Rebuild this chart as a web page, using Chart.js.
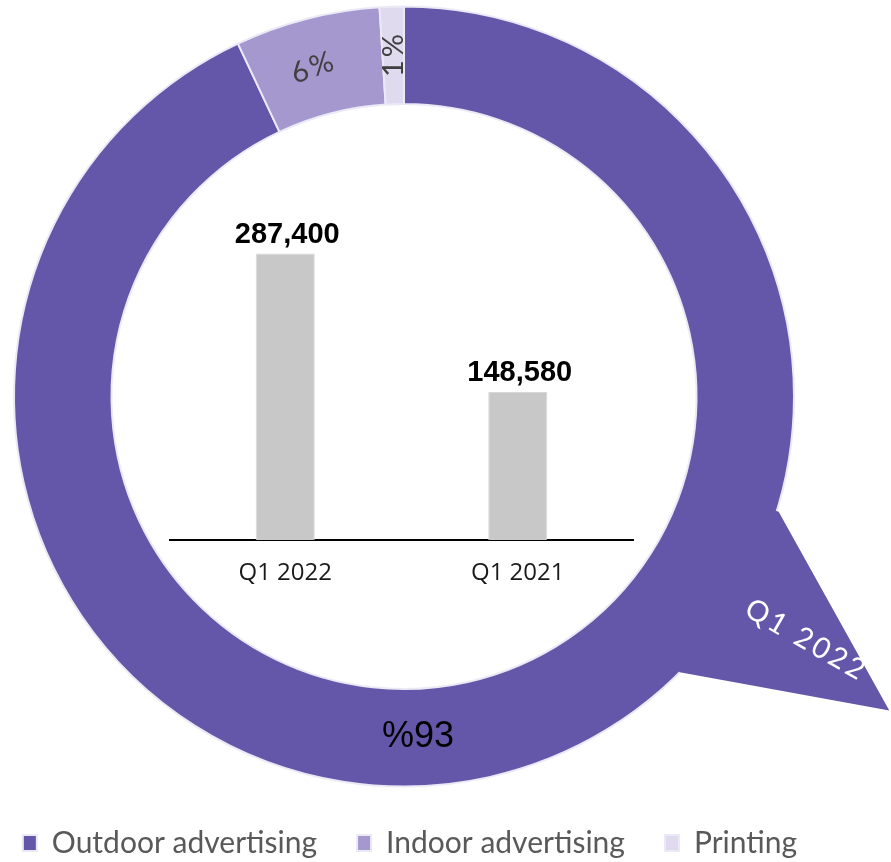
<!DOCTYPE html>
<html>
<head>
<meta charset="utf-8">
<script src="https://cdn.jsdelivr.net/npm/chart.js@4.4.0/dist/chart.umd.min.js"></script>
<style>
  html, body { margin: 0; padding: 0; background: #fff; }
  #wrap { position: relative; width: 891px; height: 862px; overflow: hidden; }
  #ring { position: absolute; left: 0; top: 0; }
  #bars { position: absolute; left: 169px; top: 201px; }
</style>
</head>
<body>
<div id="wrap">
  <canvas id="ring" width="891" height="862"></canvas>
  <canvas id="bars" width="465" height="384"></canvas>
</div>
<script>
// revenue share by segment (Q1 2022)
const shareLabels = ['Outdoor advertising', 'Indoor advertising', 'Printing'];
const shareValues = [93, 6, 1];
const shareText = ['%93', '6%', '1%'];
const shareColors = ['#6457A9', '#A498CF', '#E0DAEF'];

// revenue, this quarter vs same quarter last year
const periods = ['Q1 2022', 'Q1 2021'];
const revenue = [287400, 148580];
const revenueMax = 300000;

const deg = Math.PI / 180;

// speech-bubble tail + labels on the ring
const ringExtras = {
  id: 'ringExtras',
  afterInit(chart) {
    // legend: one row across the whole page, fixed strip height
    const lg = chart.legend;
    const fit = lg.fit.bind(lg);
    lg.fit = function () { this.maxWidth = 891; fit(); this.height = 74; };
  },
  afterLayout(chart) {
    // let the single legend row run wider than the ring's box
    chart.legend.left = -20;
    chart.legend.right = 840;
  },
  afterDatasetsDraw(chart) {
    const ctx = chart.ctx;
    const arcs = chart.getDatasetMeta(0).data;
    const cx = arcs[0].x, cy = arcs[0].y, R = arcs[0].outerRadius;
    const pt = (a, r) => [cx + r * Math.cos(a * deg), cy + r * Math.sin(a * deg)];

    ctx.save();
    ctx.fillStyle = shareColors[0];
    ctx.beginPath();
    ctx.moveTo(...pt(17.1, R + 2));
    ctx.lineTo(...pt(32.9, R * 1.482));
    ctx.lineTo(...pt(45, R));
    ctx.arc(cx, cy, R - 4, 45 * deg, 17.1 * deg, true);
    ctx.closePath();
    ctx.fill();

    // tail caption
    const [tx, ty] = pt(31.2, R * 1.206);
    ctx.translate(tx, ty);
    ctx.rotate(30 * deg);
    ctx.fillStyle = '#fff';
    ctx.font = '29px Lato, sans-serif';
    ctx.letterSpacing = '3px';
    ctx.textAlign = 'center';
    ctx.textBaseline = 'middle';
    ctx.fillText(periods[0], 0, 0);
    ctx.restore();

    // percentage labels
    const spots = [{ ang: 87.9, dr: 0, rot: 0 }, { ang: -105.6, dr: 0, rot: -20 }, { ang: null, dr: 0, rot: -90 }];
    arcs.forEach((arc, i) => {
      const s = spots[i];
      const a = s.ang !== null ? s.ang * deg : (arc.startAngle + arc.endAngle) / 2;
      const r = (arc.innerRadius + arc.outerRadius) / 2 + s.dr;
      ctx.save();
      ctx.translate(cx + r * Math.cos(a), cy + r * Math.sin(a));
      ctx.rotate(s.rot * deg);
      ctx.textAlign = 'center';
      ctx.textBaseline = 'middle';
      if (i === 0) {
        ctx.font = '36px "Liberation Sans", Arial, sans-serif';
        ctx.fillStyle = '#000';
      } else {
        ctx.font = '29px Lato, sans-serif';
        ctx.letterSpacing = '3px';
        ctx.fillStyle = '#404040';
      }
      ctx.fillText(shareText[i], 1.5, 0);
      ctx.restore();
    });
  }
};

new Chart(document.getElementById('ring'), {
  type: 'doughnut',
  data: {
    labels: shareLabels,
    datasets: [{
      data: shareValues,
      backgroundColor: shareColors,
      borderColor: '#ECE9F7',
      borderWidth: 2,
      hoverOffset: 0
    }]
  },
  options: {
    responsive: false,
    animation: false,
    devicePixelRatio: 1,
    cutout: '75%',
    layout: { padding: { left: 13, right: 96, top: 5, bottom: 0 } },
    plugins: {
      tooltip: { enabled: false },
      legend: {
        position: 'bottom',
        labels: {
          boxWidth: 14,
          boxHeight: 16,
          padding: 40,
          color: '#595959',
          font: { family: 'Lato', size: 30 }
        }
      }
    }
  },
  plugins: [ringExtras]
});

// values above the bars
const barValues = {
  id: 'barValues',
  afterDatasetsDraw(chart) {
    const ctx = chart.ctx;
    ctx.save();
    ctx.font = 'bold 29px "Liberation Sans", Arial, sans-serif';
    ctx.fillStyle = '#000';
    ctx.textAlign = 'center';
    ctx.textBaseline = 'alphabetic';
    chart.getDatasetMeta(0).data.forEach((bar, i) => {
      ctx.fillText(revenue[i].toLocaleString('en-US'), bar.x + 2, bar.y - 11);
    });
    ctx.restore();
  }
};

new Chart(document.getElementById('bars'), {
  type: 'bar',
  data: {
    labels: periods,
    datasets: [{
      data: revenue,
      backgroundColor: '#C8C8C8',
      borderColor: '#D8D8D8',
      borderWidth: 1,
      barPercentage: 0.254,
      categoryPercentage: 1
    }]
  },
  options: {
    responsive: false,
    animation: false,
    devicePixelRatio: 1,
    layout: { padding: { top: 40, left: 0, right: 0, bottom: 0 } },
    plugins: { legend: { display: false }, tooltip: { enabled: false } },
    scales: {
      x: {
        grid: { display: false, drawTicks: false },
        border: { display: true, color: '#000', width: 2 },
        ticks: { color: '#1a1a1a', padding: 19, font: { family: '"Open Sans"', size: 24 } },
        afterFit(s) { s.height = 45; }
      },
      y: { display: false, min: 0, max: revenueMax }
    }
  },
  plugins: [barValues]
});
</script>
</body>
</html>
